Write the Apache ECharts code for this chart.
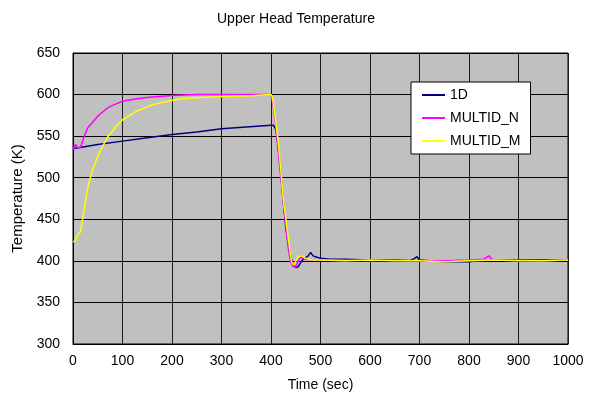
<!DOCTYPE html>
<html>
<head>
<meta charset="utf-8">
<script src="https://cdn.jsdelivr.net/npm/echarts@6/dist/echarts.min.js"></script>
<style>html,body{margin:0;padding:0;background:#fff;}#c{width:592px;height:399px;}</style>
</head>
<body>
<div id="c"></div>
<script>
var seriesNames = ['1D', 'MULTID_N', 'MULTID_M'];
var xTicks = [0, 100, 200, 300, 400, 500, 600, 700, 800, 900, 1000];
var yTicks = [300, 350, 400, 450, 500, 550, 600, 650];

var t1D = [0,20,50,100,150,200,250,300,350,400,405,410,415,420,425,430,435,440,445,450,455,460,465,470,475,480,485,490,500,520,550,600,650,680,690,695,700,720,750,800,820,850,900,950,1000];
var v1D = [535,537,540,544,548,552,555,559,561,563,563,558,535,505,470,440,420,405,395,392,393,398,402,404,406,410,406,405,403,402,402,401,401,400,403,405,401,400,399,399,400,401,401,401,401];

var tN = [0,5,10,15,20,25,30,40,50,60,70,80,100,120,140,160,180,200,250,300,400,402,405,410,415,420,425,430,435,440,445,450,455,460,465,470,480,500,550,600,650,700,750,800,830,840,845,850,880,900,950,1000];
var vN = [534,540,536,536,545,553,560,567,574,579,584,587,592,594,596,597,598,599,600,600,600,598,585,560,530,500,470,442,415,398,393,393,400,404,403,402,401,401,401,400,401,400,400,401,402,406,403,401,401,401,400,401];

var tM = [0,5,8,12,15,20,25,30,35,40,47,55,61,70,81,90,101,115,128,145,162,185,209,240,276,320,360,400,403,408,415,421,425,431,438,442,446,450,455,462,470,480,500,550,600,650,700,750,800,850,900,950,1000];
var vM = [423,424,430,428,435,452,472,488,500,510,521,532,539,549,557,564,570,575,580,584,588,591,594,596,597,598,598.5,600,597,575,541,501,473,445,413,398,395,397,405,406,403,401,401,400,401,400,400,399,400,401,400,400,401];

function pairs(t, v) { return t.map(function (x, i) { return [x, v[i]]; }); }

var colors = ['#000080', '#ff00ff', '#ffff00'];
var dataSets = [pairs(t1D, v1D), pairs(tN, vN), pairs(tM, vM)];

var font = 'Liberation Sans, Arial, sans-serif';
var chart = echarts.init(document.getElementById('c'), null, {renderer: 'canvas'});
chart.setOption({
  animation: false,
  backgroundColor: '#ffffff',
  title: {
    text: 'Upper Head Temperature', left: 'center', top: 7,
    textStyle: {fontSize: 14, fontWeight: 'normal', color: '#000', fontFamily: font}
  },
  grid: {left: 73, right: 24, top: 53, bottom: 55, show: true, backgroundColor: '#c0c0c0', borderColor: '#000', borderWidth: 1},
  legend: {
    orient: 'vertical', left: 411, top: 82,
    backgroundColor: '#fff', borderColor: '#000', borderWidth: 1,
    padding: [5, 10, 5, 11], itemGap: 7,
    itemWidth: 23, itemHeight: 2, icon: 'rect',
    textStyle: {fontSize: 14, color: '#000', fontFamily: font, lineHeight: 16, padding: [0, 0, 0, 0]},
    data: seriesNames
  },
  xAxis: {
    type: 'value', min: xTicks[0], max: xTicks[xTicks.length - 1], interval: 100,
    name: 'Time (sec)', nameLocation: 'middle', nameGap: 34,
    nameTextStyle: {fontSize: 14, color: '#000', fontFamily: font},
    axisLine: {show: true, lineStyle: {color: '#000', width: 1}},
    axisTick: {show: false},
    axisLabel: {fontSize: 14, color: '#000', fontFamily: font, margin: 10, formatter: function (v) { return String(v); }},
    splitLine: {show: true, lineStyle: {color: '#1a1a1a', width: 1}}
  },
  yAxis: {
    type: 'value', min: yTicks[0], max: yTicks[yTicks.length - 1], interval: 50,
    name: 'Temperature (K)', nameLocation: 'middle', nameGap: 47,
    nameTextStyle: {fontSize: 15, color: '#000', fontFamily: font},
    axisLine: {show: true, lineStyle: {color: '#000', width: 1}},
    axisTick: {show: false},
    axisLabel: {fontSize: 14, color: '#000', fontFamily: font, margin: 13, formatter: function (v) { return String(v); }},
    splitLine: {show: true, lineStyle: {color: '#000', width: 1}}
  },
  series: dataSets.map(function (d, i) {
    return {
      name: seriesNames[i], type: 'line', data: d, showSymbol: false, symbol: 'none',
      itemStyle: {color: colors[i]},
      lineStyle: {color: colors[i], width: 1.5}
    };
  })
});
</script>
</body>
</html>
